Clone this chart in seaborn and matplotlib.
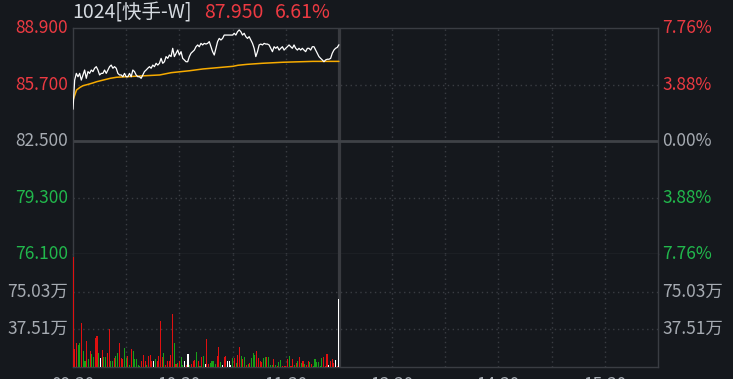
import numpy as np
import pandas as pd
import matplotlib
matplotlib.use("Agg")
import matplotlib.pyplot as plt
import seaborn as sns

# ---------------- data ----------------
title_code = "1024[快手-W]"
last_price_text = "87.950"
change_text = "6.61%"
pre_close = 82.5

price_ticks = [88.9, 85.7, 82.5, 79.3, 76.1]
price_tick_labels = ["88.900", "85.700", "82.500", "79.300", "76.100"]
pct_tick_labels = ["7.76%", "3.88%", "0.00%", "3.88%", "7.76%"]
vol_ticks = [37.51, 75.03]
vol_tick_labels = ["37.51万", "75.03万"]
time_labels = ["09:30", "10:30", "11:30", "13:30", "14:30", "15:30"]
time_label_minutes = [0, 60, 120, 180, 240, 300]

prices = [84.30, 85.95, 86.33, 86.14, 86.33, 85.95, 86.24, 86.52, 86.05, 86.43,
          86.33, 86.52, 86.43, 86.62, 86.71, 86.52, 86.24, 86.33, 86.33, 86.52,
          86.33, 86.52, 86.71, 86.80, 86.62, 86.71, 86.62, 86.33, 86.24, 86.24,
          86.14, 86.33, 86.14, 86.14, 86.33, 86.14, 86.52, 86.43, 86.24, 86.14,
          86.14, 86.05, 86.24, 86.43, 86.52, 86.62, 86.71, 86.62, 86.80, 86.71,
          86.90, 86.80, 86.90, 87.18, 86.90, 86.99, 87.28, 87.18, 87.37, 87.28,
          87.75, 87.28, 87.47, 87.65, 87.37, 87.56, 87.18, 87.09, 86.99, 86.99,
          87.28, 87.47, 87.56, 87.65, 87.84, 87.94, 87.84, 88.03, 87.94, 88.03,
          87.99, 88.03, 88.13, 87.84, 87.56, 87.37, 87.75, 88.13, 88.31, 88.22,
          88.31, 88.50, 88.50, 88.50, 88.50, 88.50, 88.50, 88.60, 88.50, 88.69,
          88.79, 88.69, 88.50, 88.60, 88.41, 88.31, 88.41, 88.22, 88.03, 87.75,
          87.28, 87.56, 87.94, 87.99, 87.94, 88.03, 87.99, 87.99, 87.94, 87.75,
          87.56, 87.84, 87.75, 87.84, 87.65, 87.75, 87.84, 87.65, 87.75, 87.84,
          87.94, 87.84, 87.75, 87.94, 87.75, 87.65, 87.75, 87.65, 87.75, 87.65,
          87.56, 87.75, 87.75, 87.65, 87.84, 87.84, 87.65, 87.47, 87.28, 87.18,
          87.09, 86.99, 87.09, 87.13, 87.13, 87.18, 87.47, 87.65, 87.75, 87.80,
          87.95]

avg_minutes = [0, 1, 2, 4, 5.6, 8.6, 11.3, 13.4, 17, 21, 24.6, 30, 48.9, 55.4,
               65.8, 73.3, 81.2, 90.2, 93.1, 98.1, 106.6, 118.4, 135.4, 150]
avg_values = [84.80, 85.10, 85.39, 85.54, 85.63, 85.71, 85.79, 85.86, 85.95,
              86.05, 86.11, 86.14, 86.24, 86.37, 86.48, 86.58, 86.65, 86.73,
              86.79, 86.84, 86.90, 86.96, 87.01, 87.01]

volumes = [110.0, 18.4, 24.1, 22.4, 24.1, 43.6, 15.7, 5.7, 25.8, 8.4,
           15.7, 13.4, 9.7, 29.1, 30.5, 14.1, 9.0, 17.4, 9.7, 10.1,
           14.1, 38.2, 5.7, 6.4, 9.0, 11.4, 14.1, 23.5, 9.0, 8.4,
           19.1, 9.0, 11.4, 2.3, 18.4, 16.4, 8.4, 8.4, 2.3, 1.3,
           6.4, 12.4, 5.7, 2.3, 10.7, 12.4, 5.7, 6.4, 8.4, 5.7,
           11.4, 45.6, 10.1, 14.1, 2.3, 5.7, 6.4, 12.4, 52.6, 24.1,
           3.0, 4.0, 6.4, 10.1, 2.3, 5.7, 2.3, 13.4, 2.3, 3.0,
           5.7, 6.7, 15.4, 6.4, 1.3,
           9.7, 11.4, 3.4, 27.5, 3.4, 4.0, 6.4, 6.4, 3.4, 11.4,
           20.4, 5.4, 2.3, 10.1, 11.4, 5.7, 6.4, 2.3, 8.7, 9.4,
           4.0, 12.4, 20.4, 10.7, 8.0, 10.1, 2.3, 3.4, 4.0, 9.4,
           14.1, 11.7, 16.4, 9.0, 6.4, 4.7, 9.0, 10.1, 10.4, 10.1,
           2.3, 2.3, 8.0, 2.3, 1.3, 4.7, 7.4, 1.3, 1.3, 1.3,
           8.4, 11.4, 1.3, 8.0, 2.3, 4.0, 6.4, 10.1, 3.7, 6.4,
           3.4, 1.7, 6.0, 5.4, 3.4, 1.3, 8.4, 5.0, 5.0, 1.3,
           9.0, 10.1, 1.3, 13.4, 2.3, 5.7, 8.0, 4.0, 7.0, 1.3,
           67.7]
# r = up (red), g = down (green), w = unchanged (white)
vol_dirs = ("rrrggrggrg" "rggrrgwrgg" "rrggrggrrr" "ggrgrggggg"
            "rrrgrrrwgr" "rrrgrrrrrg" "rgrggwrwgr" "rrgrg"
            "rgwrrggggr" "rgwrrwwwgr" "grrgrgrgrg" "ggrrrrggrg"
            "ggrgrggrrr" "rgrrgrgrgr" "grrgrggggg" "grrrwrrrwr"
            "w")

# ---------------- style ----------------
BG = "#15181d"
GRID = "#3a3d43"
RED_TXT = "#ec3a42"
GRN_TXT = "#21b84c"
GRAY_TXT = "#a6abb2"
BAR_COL = {"r": "#e01010", "g": "#18a018", "w": "#ffffff"}

sns.set_theme(style="dark")
plt.rcParams["font.family"] = ["Noto Sans CJK SC", "DejaVu Sans"]
plt.rcParams["axes.unicode_minus"] = False

W, H = 733, 379
fig = plt.figure(figsize=(W / 100, H / 100), dpi=100, facecolor=BG)

L, R = 73, 658
TOP, MID, BOT = 28, 254, 367
ax = fig.add_axes([L / W, 1 - MID / H, (R - L) / W, (MID - TOP) / H])
axv = fig.add_axes([L / W, 1 - BOT / H, (R - L) / W, (BOT - MID) / H])

for a in (ax, axv):
    a.set_facecolor(BG)
    a.set_xlim(0, 330)
    a.set_xticks([])
    a.set_yticks([])
    a.grid(False)
    for s in a.spines.values():
        s.set_color(GRID)
        s.set_linewidth(1.0)
    for m in range(30, 330, 30):
        if m == 150:
            continue
        a.axvline(m, color=GRID, lw=1.0, ls=(0, (1, 2.5)), zorder=1)
    a.axvline(150, color="#393b40", lw=2.3, zorder=1)
axv.spines["top"].set_visible(False)

ax.set_ylim(76.1, 88.9)
for v in (85.7, 79.3):
    ax.axhline(v, color=GRID, lw=1.0, ls=(0, (1, 2.5)), zorder=1)
ax.axhline(82.5, color="#3f4247", lw=2.0, zorder=1)

axv.set_ylim(0, 112.54)
for v in vol_ticks:
    axv.axhline(v, color=GRID, lw=1.0, ls=(0, (1, 2.5)), zorder=1)

# price + average lines
t_price = np.linspace(0, 150, len(prices))
df_p = pd.DataFrame({"t": t_price, "p": prices})
sns.lineplot(data=df_p, x="t", y="p", ax=ax, color="#ffffff", lw=0.9, zorder=3)
df_a = pd.DataFrame({"t": avg_minutes, "p": avg_values})
sns.lineplot(data=df_a, x="t", y="p", ax=ax, color="#f7ab00", lw=1.1, zorder=2)
ax.set_xlabel("")
ax.set_ylabel("")
ax.set_xlim(0, 330)
ax.set_xticks([])
ax.set_yticks([])

# volume bars
n = len(volumes) - 1
t_vol = list(np.linspace(0, 149.1, n)) + [150]
cols = [BAR_COL[d] for d in vol_dirs]
axv.bar(t_vol, volumes, width=0.6, color=cols, linewidth=0, zorder=3)
axv.set_xlabel("")
axv.set_ylabel("")

# ---------------- texts ----------------
def px(x, y):
    return x / W, 1 - y / H

FS = 12.5
for v, lab, plab in zip(price_ticks, price_tick_labels, pct_tick_labels):
    y = TOP + (88.9 - v) / 12.8 * (MID - TOP)
    if v > pre_close:
        c = RED_TXT
    elif v < pre_close:
        c = GRN_TXT
    else:
        c = GRAY_TXT
    fig.text(*px(68, y), lab, color=c, fontsize=FS, ha="right", va="center")
    fig.text(*px(662, y), plab, color=c, fontsize=FS, ha="left", va="center")

for v, lab in zip(vol_ticks, vol_tick_labels):
    y = BOT - v / 112.54 * (BOT - MID)
    fig.text(*px(68, y), lab, color=GRAY_TXT, fontsize=FS, ha="right", va="center")
    fig.text(*px(662, y), lab, color=GRAY_TXT, fontsize=FS, ha="left", va="center")

for m, lab in zip(time_label_minutes, time_labels):
    x = L + m / 330 * (R - L)
    fig.text(*px(x, 375.5), lab, color=GRAY_TXT, fontsize=FS, ha="center", va="top")

TFS = 14
fig.text(*px(72, 12.5), title_code, color="#d5dae0", fontsize=TFS, ha="left", va="center")
fig.text(*px(204, 12.5), last_price_text, color=RED_TXT, fontsize=TFS, ha="left", va="center")
fig.text(*px(275, 12.5), change_text, color=RED_TXT, fontsize=TFS, ha="left", va="center")

fig.savefig("out.png", dpi=100, facecolor=BG)
